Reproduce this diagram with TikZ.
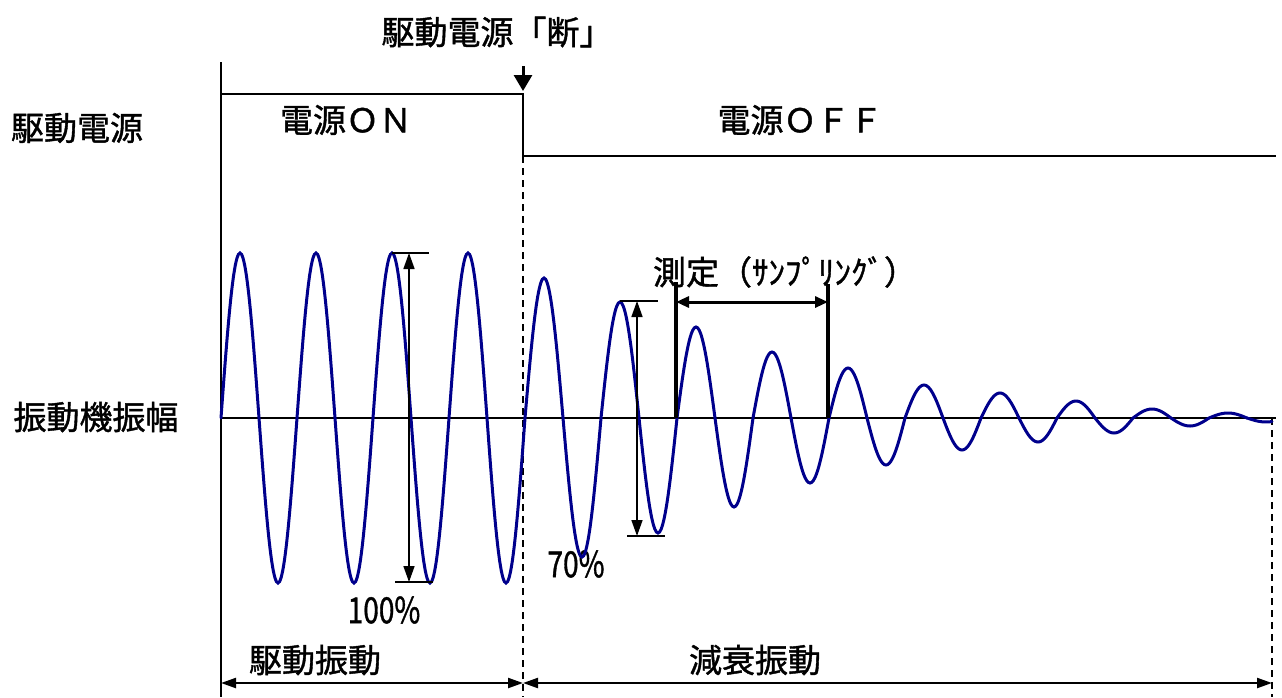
\documentclass[tikz,border=0pt]{standalone}
\usepackage{fontspec}
\usepackage{graphicx}
\setmainfont{Noto Sans CJK JP}[FakeBold=1.2]
\usetikzlibrary{arrows.meta}
\definecolor{wavec}{RGB}{0,0,140}
\begin{document}
\begin{tikzpicture}[x=1pt,y=-1pt,
  lbl/.style={inner sep=0pt,font=\fontsize{33}{36}\selectfont},
  pct/.style={inner sep=0pt,font=\fontsize{36}{40}\selectfont},
  axisln/.style={line width=2pt},
  pw/.style={line width=2.2pt},
  zeroln/.style={line width=1.6pt},
  dashln/.style={line width=1.8pt,dash pattern=on 7pt off 5pt},
  wave/.style={line width=3pt,wavec,line cap=round},
  amp/.style={line width=1.6pt,{Triangle[length=16pt,width=11pt]}-{Triangle[length=16pt,width=11pt]}},
  tick/.style={line width=1.6pt},
  span/.style={line width=2.2pt,{Triangle[length=15pt,width=10pt]}-{Triangle[length=15pt,width=10pt]}},
  meas/.style={line width=3.5pt},
  measarr/.style={line width=3pt,{Triangle[length=13pt,width=11pt]}-{Triangle[length=13pt,width=11pt]}}]
\useasboundingbox (0,0) rectangle (1282,697);

% coordinates
\coordinate (axTop) at (221,62);
\coordinate (axBot) at (221,697);
\coordinate (pOn) at (221,94);
\coordinate (pStep) at (523,94);
\coordinate (pLow) at (523,156);
\coordinate (pOff) at (1276,156);
\coordinate (z0) at (221,418);
\coordinate (z1) at (1276,418);
\coordinate (dBot) at (523,697);
\coordinate (rTop) at (1272,418);
\coordinate (rBot) at (1272,697);
\coordinate (cutTop) at (523,66);
\coordinate (cutTip) at (523,91);
\coordinate (bL) at (221,683);
\coordinate (bM) at (523,683);
\coordinate (bR) at (1272,683);

% texts
\node[lbl] (title) at (497,32) {駆動電源「断」};
\node[lbl] (lblPower) at (77,128) {駆動電源};
\node[lbl] (lblAmp) at (96,417) {振動機振幅};
\node[lbl] (lblOn) at (346,120) {電源ＯＮ};
\node[lbl] (lblOff) at (800,120) {電源ＯＦＦ};
\node[lbl,font=\fontsize{33}{36}\selectfont] (lblMeas) at (785,272) {測定（ｻﾝﾌﾟﾘﾝｸﾞ）};
\node[pct] (p100) at (384,610) {\scalebox{0.78}[1]{100\%}};
\node[pct] (p70) at (576,564) {\scalebox{0.78}[1]{70\%}};
\node[lbl] (lblDrive) at (315,660) {駆動振動};
\node[lbl] (lblDecay) at (755,660) {減衰振動};

% axes and power line
\draw[axisln] (axTop) -- (axBot);
\draw[pw] (pOn) -- (pStep) -- (pLow) -- (pOff);
\draw[zeroln] (z0) -- (z1);
\draw[dashln] (pLow) -- (dBot);
\draw[dashln] (rTop) -- (rBot);
\draw[line width=3pt,-{Triangle[length=16pt,width=18pt]}] (cutTop) -- (cutTip);

% waveform
\foreach \A [count=\k from 0] in {165,165,165,165,165,165,165,165,140,139,116,115,91,89,66,65,50,47,33,32,25,24,17,15,9,8,5}{
  \pgfmathsetmacro\xs{221+38*\k}
  \pgfmathsetmacro\sg{1-2*mod(\k,2)}
  \draw[wave] plot[variable=\t,domain=0:180,samples=25,smooth] ({\xs+\t*38/180},{418-\sg*\A*sin(\t)});
}
\draw[wave] plot[variable=\t,domain=0:118,samples=12,smooth] ({1247+\t*38/180},{418+4*sin(\t)});

% 100% amplitude
\coordinate (hT) at (409,253);
\coordinate (hB) at (409,582);
\coordinate (hT1) at (392,253);
\coordinate (hT2) at (429,253);
\coordinate (hB1) at (395,582);
\coordinate (hB2) at (433,582);
\draw[tick] (hT1) -- (hT2);
\draw[tick] (hB1) -- (hB2);
\draw[amp] (hT) -- (hB);

% 70% amplitude
\coordinate (sT) at (637,301);
\coordinate (sB) at (637,536);
\coordinate (sT1) at (620,301);
\coordinate (sT2) at (658,301);
\coordinate (sB1) at (627,536);
\coordinate (sB2) at (665,536);
\draw[tick] (sT1) -- (sT2);
\draw[tick] (sB1) -- (sB2);
\draw[amp] (sT) -- (sB);

% measurement window
\coordinate (m1b) at (676,418);
\coordinate (m1t) at (676,282);
\coordinate (m2b) at (828,418);
\coordinate (m2t) at (828,284);
\coordinate (ma1) at (676,302);
\coordinate (ma2) at (828,302);
\draw[meas] (m1b) -- (m1t);
\draw[meas] (m2b) -- (m2t);
\draw[measarr] (ma1) -- (ma2);

% bottom spans
\draw[span] (bL) -- (bM);
\draw[span] (bM) -- (bR);
\end{tikzpicture}
\end{document}
